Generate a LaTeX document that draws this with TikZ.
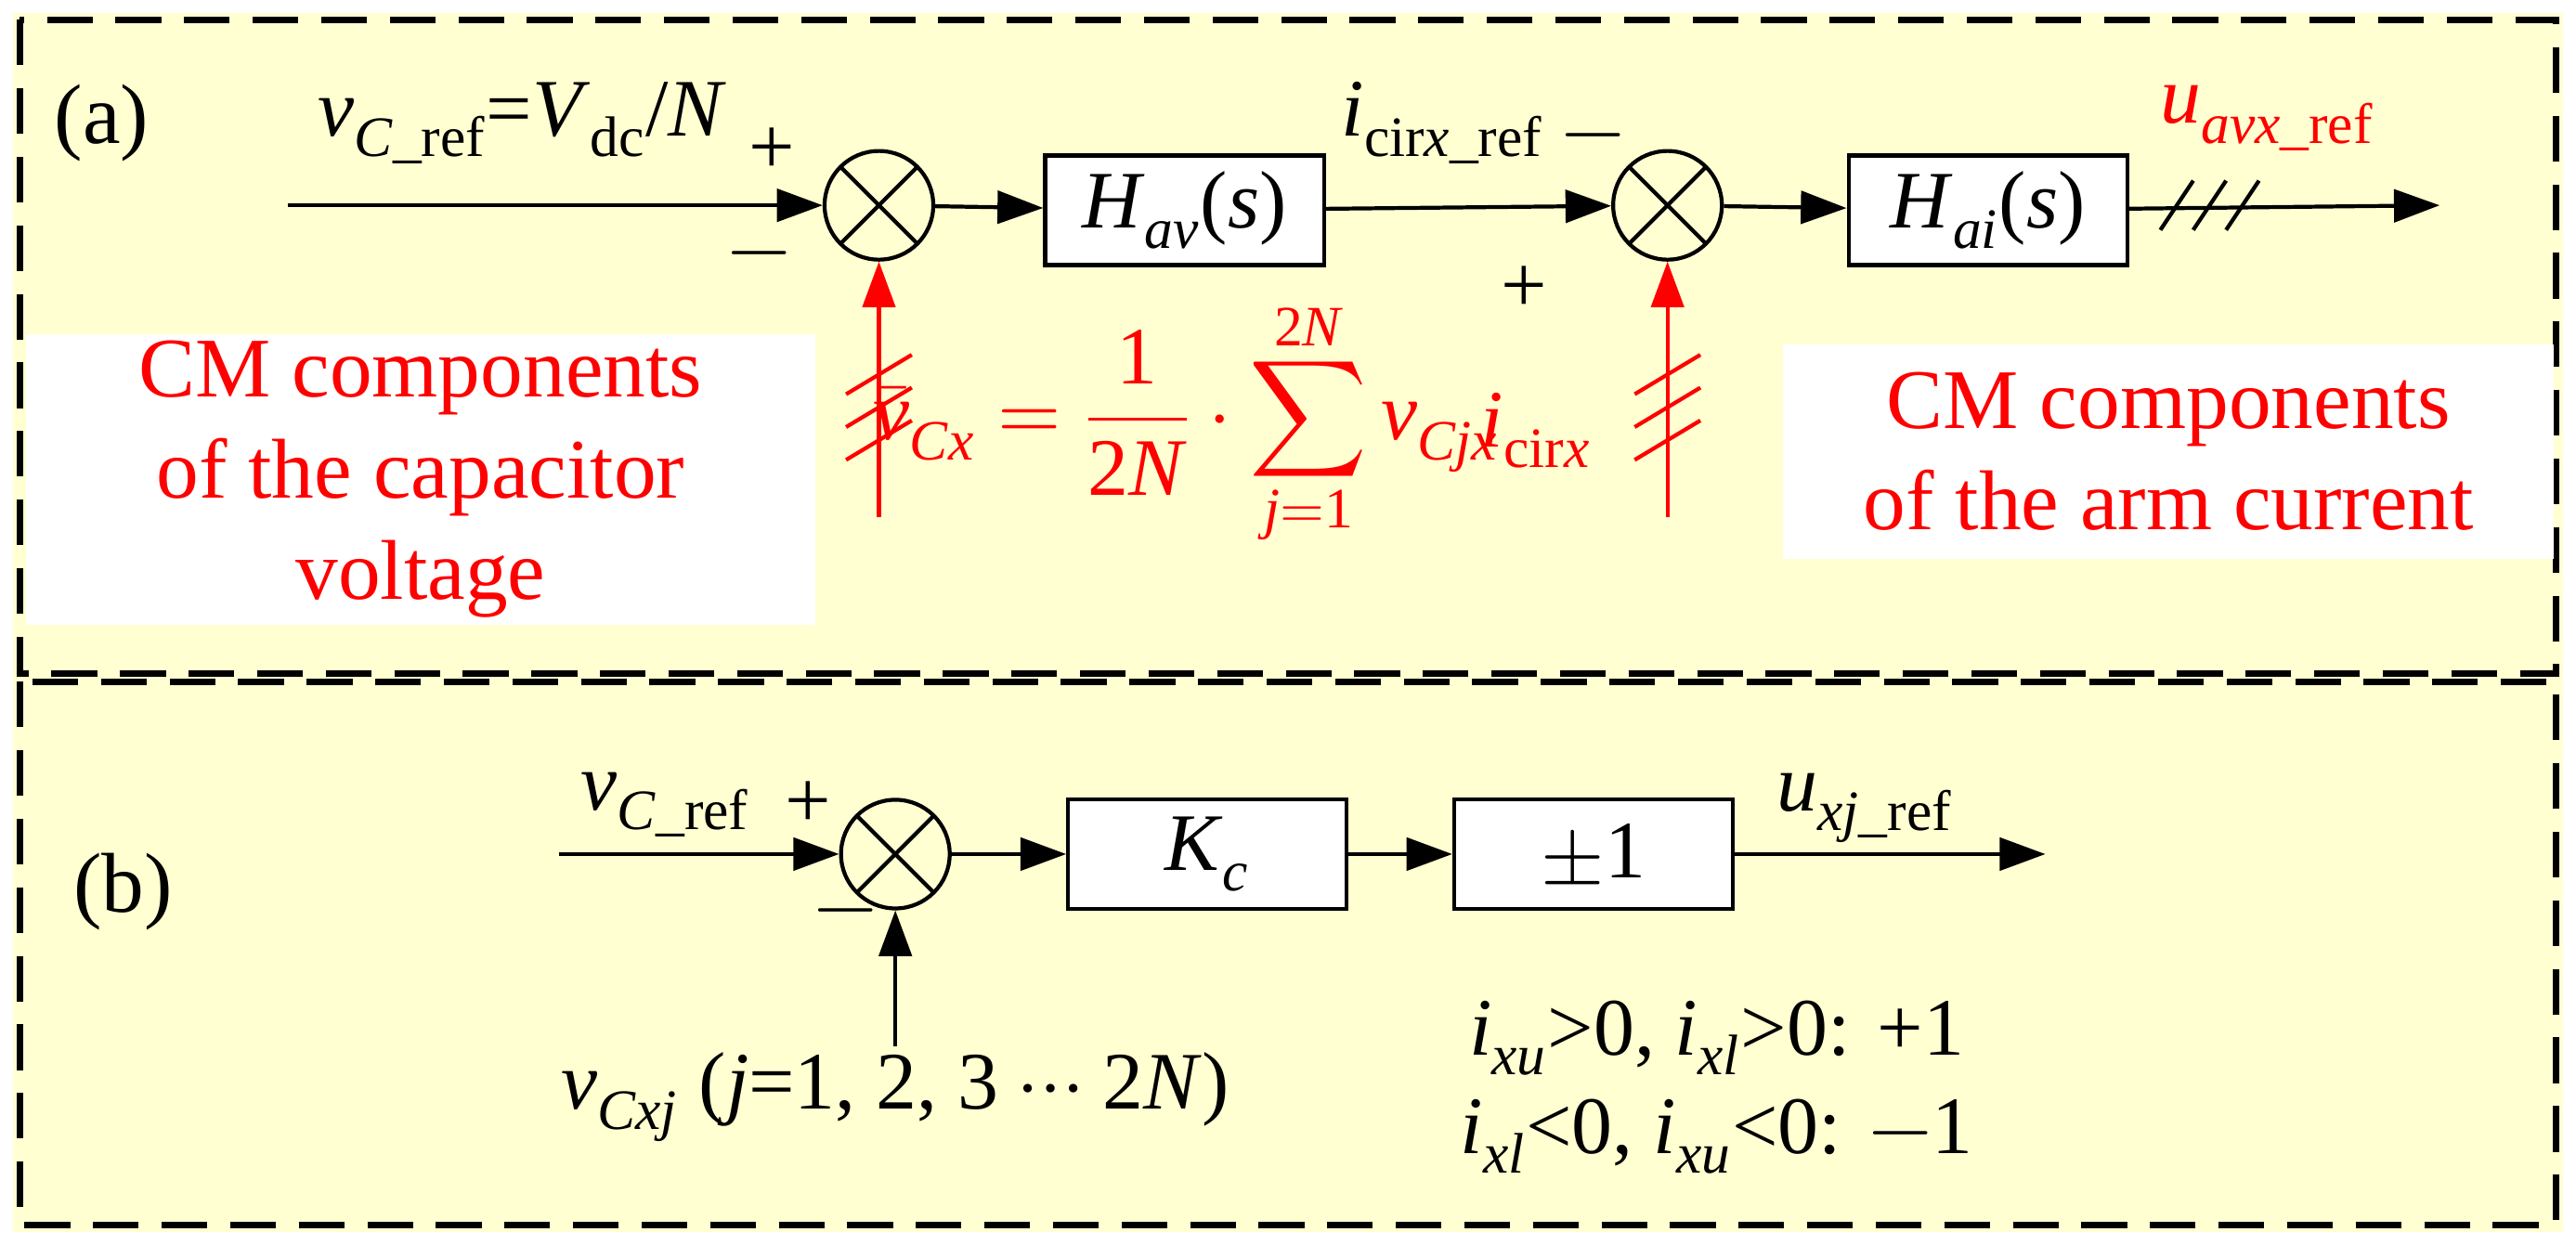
\documentclass[tikz,border=0pt]{standalone}
\usepackage{amsmath}
\usepackage{fontspec}
\setmainfont{Liberation Serif}
\usepackage{unicode-math}
\setmathfont{Latin Modern Math}
\setmathfont[range=up]{Liberation Serif}
\newcommand{\vi}[1]{\textit{#1}}
\newcommand{\tx}[1]{\text{#1}}
\usetikzlibrary{arrows.meta}
\definecolor{bg}{HTML}{FFFFD2}
\definecolor{rd}{HTML}{FF0000}
\begin{document}
\begin{tikzpicture}[x=0.01769cm,y=-0.01769cm,
  blk/.style={draw,line width=1.2pt,fill=white,minimum width=3.0cm,minimum height=1.18cm,font=\fontsize{25}{29}\selectfont},
  sum/.style={draw,circle,line width=1.2pt,minimum size=1.17cm,inner sep=0pt,path picture={\draw[line width=1.2pt] (path picture bounding box.north west)--(path picture bounding box.south east) (path picture bounding box.north east)--(path picture bounding box.south west);}},
  ar/.style={line width=1.2pt,-{Triangle[length=14pt,width=10pt]}},
  lab/.style={font=\fontsize{25}{29}\selectfont},
  big/.style={font=\fontsize{26}{31}\selectfont,text=rd,align=center}]
\useasboundingbox (0,0) rectangle (1568,758);
\fill[bg] (8,8) rectangle (1560,750);
\draw[dashed,line width=2pt,dash pattern=on 14pt off 7pt] (12,12) rectangle (1556,410);
\draw[dashed,line width=2pt,dash pattern=on 14pt off 7pt] (12,415) rectangle (1556,746);
% (a)
\node[lab,font=\fontsize{26}{30}\selectfont] (la) at (62,75) {(a)};
\coordinate (in1) at (175,125);
\node[sum] (s1) at (535,125) {};
\node[blk] (hav) at (721,128) {\vi{H}$_{\tx{\vi{av}}}$(\vi{s})};
\node[sum] (s2) at (1015,125) {};
\node[blk] (hai) at (1210,128) {\vi{H}$_{\tx{\vi{ai}}}$(\vi{s})};
\coordinate (o1) at (1485,125);
\draw[ar] (in1) -- (s1);
\draw[ar] (s1) -- (hav);
\draw[ar] (hav) -- (s2);
\draw[ar] (s2) -- (hai);
\draw[ar] (hai) -- (o1);
\foreach \x in {1325,1345,1365} \draw[line width=1.2pt] (\x-10,140)--(\x+10,110);
\node[lab] (t1) at (318,75) {\vi{v}$_{\tx{\vi{C}\_ref}}$=\vi{V}$_{\tx{dc}}$/\vi{N}};
\node[lab] (p1) at (470,92) {+};
\node[lab] (m1) at (462,160) {$-$};
\node[lab] (t2) at (878,75) {\vi{i}$_{\tx{cir\vi{x}\_ref}}$};
\node[lab] (m2) at (970,88) {$-$};
\node[lab] (p2) at (928,176) {+};
\node[lab,text=rd] (t3) at (1380,72) {\vi{u}$_{\tx{\vi{avx}\_ref}}$};
\coordinate (f1) at (535,315);
\coordinate (f2) at (1015,315);
\draw[ar,rd] (f1) -- (s1);
\draw[ar,rd] (f2) -- (s2);
\foreach \y in {228,248,268} {\draw[rd,line width=1.2pt] (515,\y+12)--(555,\y-12); \draw[rd,line width=1.2pt] (995,\y+12)--(1035,\y-12);}
\node[fill=white,big,minimum width=8.5cm,minimum height=3.05cm,inner sep=2pt] (cm1) at (256,292) {CM components\\of the capacitor\\voltage};
\node[fill=white,big,minimum width=8.3cm,minimum height=2.3cm,inner sep=2pt] (cm2) at (1320,275) {CM components\\of the arm current};
\node[lab,text=rd] (fm) at (722,258) {$\bar{\tx{\vi{v}}}_{\tx{\vi{Cx}}}=\dfrac{1}{2\tx{\vi{N}}}\cdot\displaystyle\sum_{\tx{\vi{j}}=1}^{2\tx{\vi{N}}}\tx{\vi{v}}_{\tx{\vi{Cjx}}}$};
\node[lab,text=rd] (ic) at (935,262) {\vi{i}$_{\tx{cir\vi{x}}}$};
% (b)
\node[lab,font=\fontsize{26}{30}\selectfont] (lb) at (75,543) {(b)};
\coordinate (in2) at (340,520);
\node[sum] (s3) at (545,520) {};
\node[blk] (kc) at (735,520) {\vi{K}$_{\tx{\vi{c}}}$};
\node[blk] (pm) at (970,520) {$\pm$1};
\coordinate (o2) at (1245,520);
\draw[ar] (in2) -- (s3);
\draw[ar] (s3) -- (kc);
\draw[ar] (kc) -- (pm);
\draw[ar] (pm) -- (o2);
\node[lab] (t4) at (405,490) {\vi{v}$_{\tx{\vi{C}\_ref}}$};
\node[lab] (p3) at (492,490) {+};
\node[lab] (m3) at (515,560) {$-$};
\node[lab] (t5) at (1135,492) {\vi{u}$_{\tx{\vi{xj}\_ref}}$};
\coordinate (f3) at (545,637);
\draw[ar] (f3) -- (s3);
\node[lab] (t6) at (545,668) {\vi{v}$_{\tx{\vi{Cxj}}}$ (\vi{j}=1, 2, 3 $\cdots$ 2\vi{N})};
\node[lab] (t7) at (1045,632) {\vi{i}$_{\tx{\vi{xu}}}$>0, \vi{i}$_{\tx{\vi{xl}}}$>0: +1};
\node[lab] (t8) at (1045,692) {\vi{i}$_{\tx{\vi{xl}}}$<0, \vi{i}$_{\tx{\vi{xu}}}$<0: $-$1};
\end{tikzpicture}
\end{document}
